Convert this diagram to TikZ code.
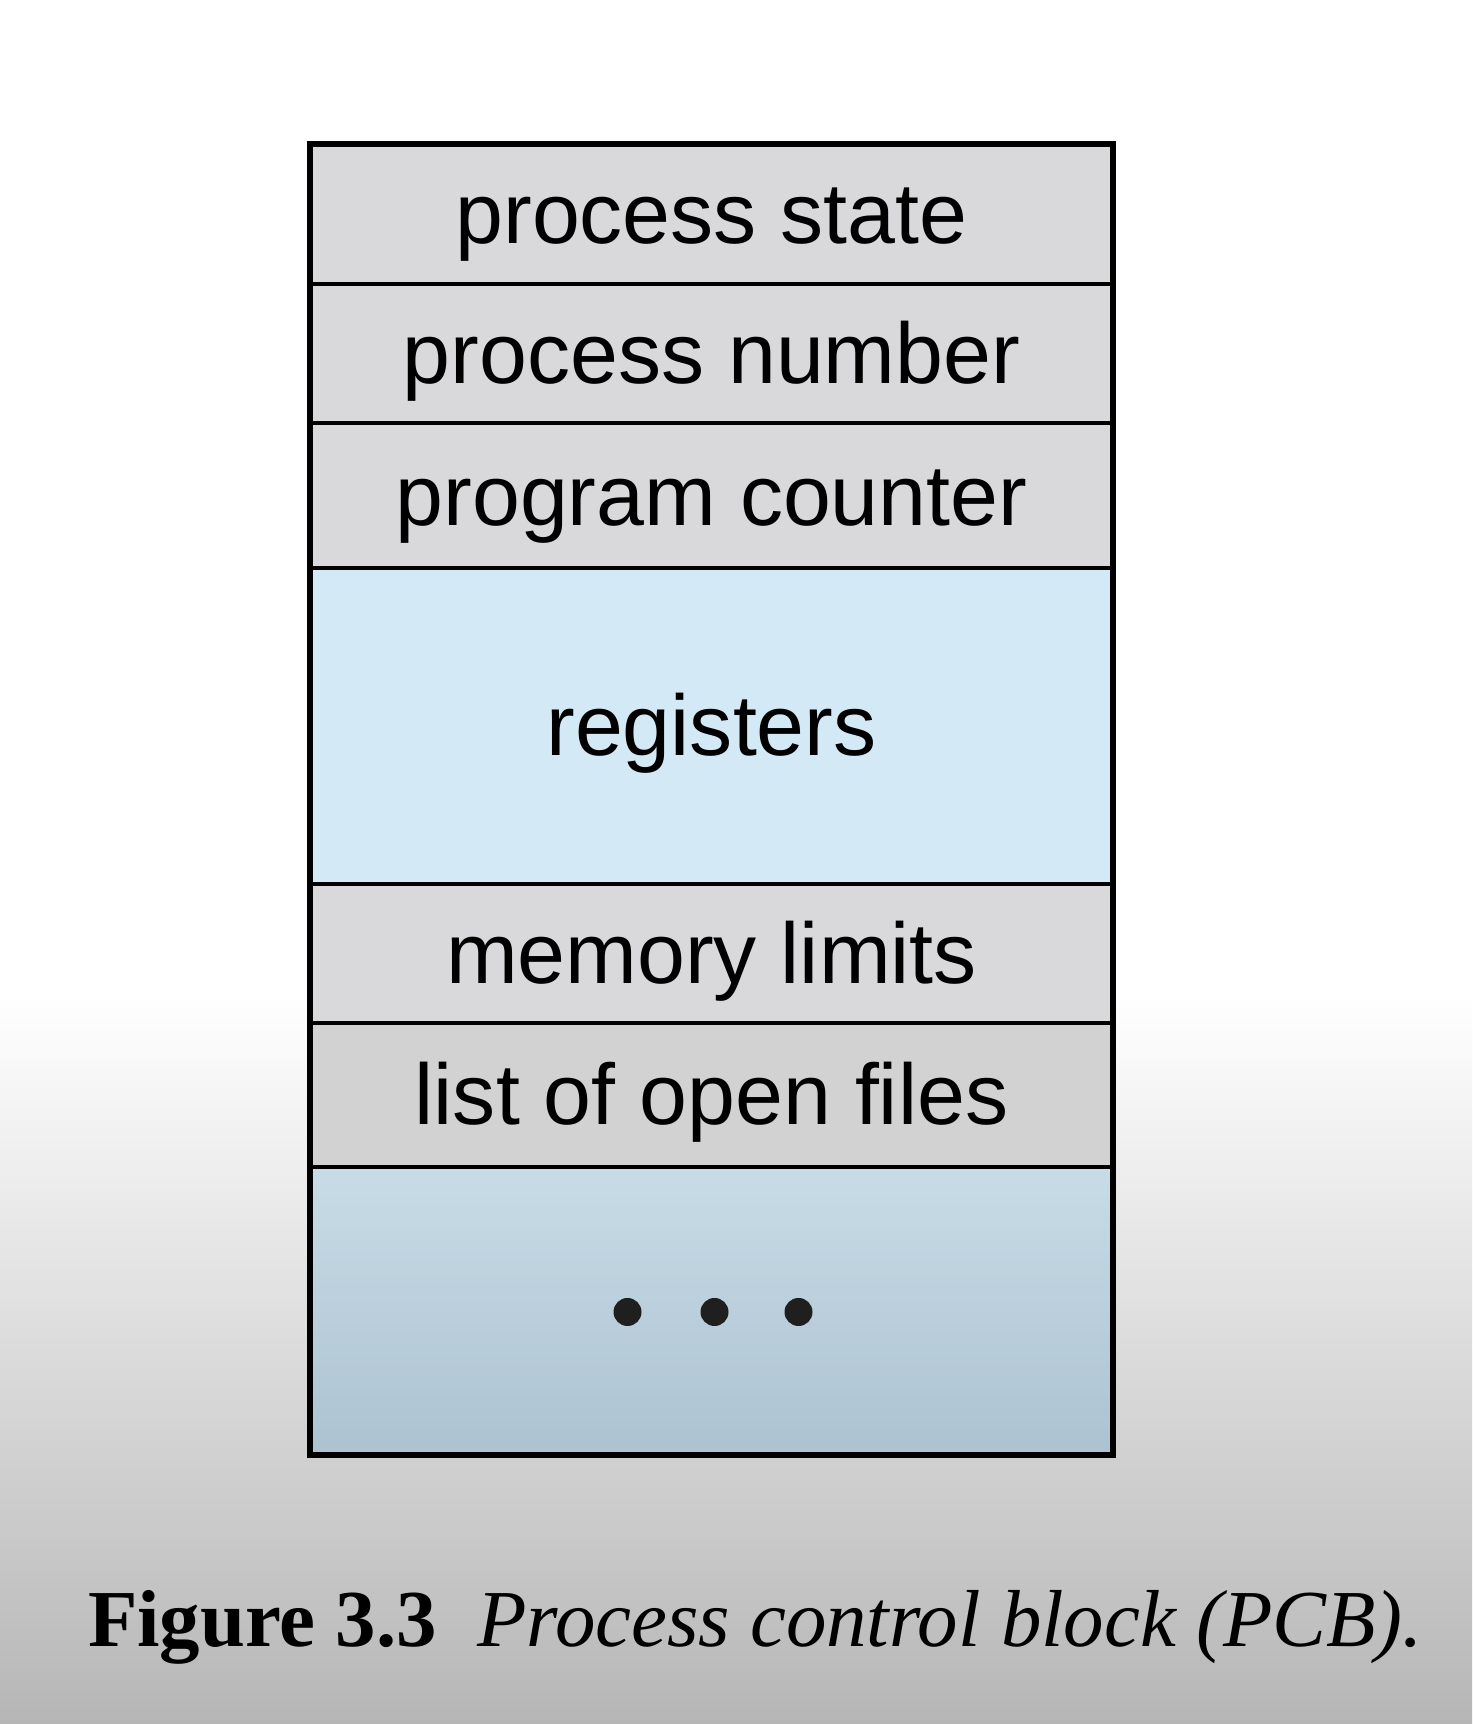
\documentclass[tikz,border=0pt]{standalone}
\usepackage{fontspec}
\setmainfont{Liberation Sans}
\newfontfamily\capfont{Liberation Serif}
\usetikzlibrary{positioning}

\definecolor{rowgray}{RGB}{217,217,219}
\definecolor{rowgraydk}{RGB}{210,210,211}
\definecolor{regblue}{RGB}{211,233,246}
\definecolor{moretop}{RGB}{200,220,231}
\definecolor{morebot}{RGB}{173,194,208}
\definecolor{bggray}{RGB}{182,182,182}

\begin{document}
\begin{tikzpicture}[
        node distance=0pt,
        every node/.style = {inner sep=0pt, outer sep=0pt},
        field/.style = {shape=rectangle, draw, line width=1.1pt,
                        minimum width=8.03cm, text height=0.8cm, text depth=0.2cm,
                        font=\fontsize{24.5}{29}\selectfont, fill=rowgray},
        blob/.style = {shape=circle, fill=black!88, minimum size=0.28cm}]
    % background
    \fill[white] (0,0) rectangle (14.72,17.24);
    \shade[top color=white, bottom color=bggray] (0,0) rectangle (14.72,7.30);

    \node[field, minimum height=1.40cm] (pstate) at (7.115,15.10) {process state};
    \node[field, minimum height=1.39cm, below=of pstate] (pnum) {process number};
    \node[field, minimum height=1.45cm, below=of pnum] (pc) {program counter};
    \node[field, minimum height=3.16cm, below=of pc, fill=regblue] (regs) {registers};
    \node[field, minimum height=1.39cm, below=of regs] (mem) {memory limits};
    \node[field, minimum height=1.44cm, below=of mem, fill=rowgraydk] (files) {list of open files};
    \node[field, minimum height=2.88cm, below=of files,
          top color=moretop, bottom color=morebot] (more) {};

    % outer frame
    \draw[line width=1.6pt] (pstate.north west) rectangle (more.south east);

    \node[blob] (dot2) at ([xshift=0.03cm, yshift=-0.01cm]more.center) {};
    \node[blob, left=0.59cm of dot2] (dot1) {};
    \node[blob, right=0.56cm of dot2] (dot3) {};

    \node[font=\capfont\fontsize{23}{27}\selectfont, anchor=base west] (caption) at (0.88,0.78)
        {\textbf{Figure 3.3}\hspace{0.5em}\textit{Process control block (PCB).}};
\end{tikzpicture}
\end{document}
